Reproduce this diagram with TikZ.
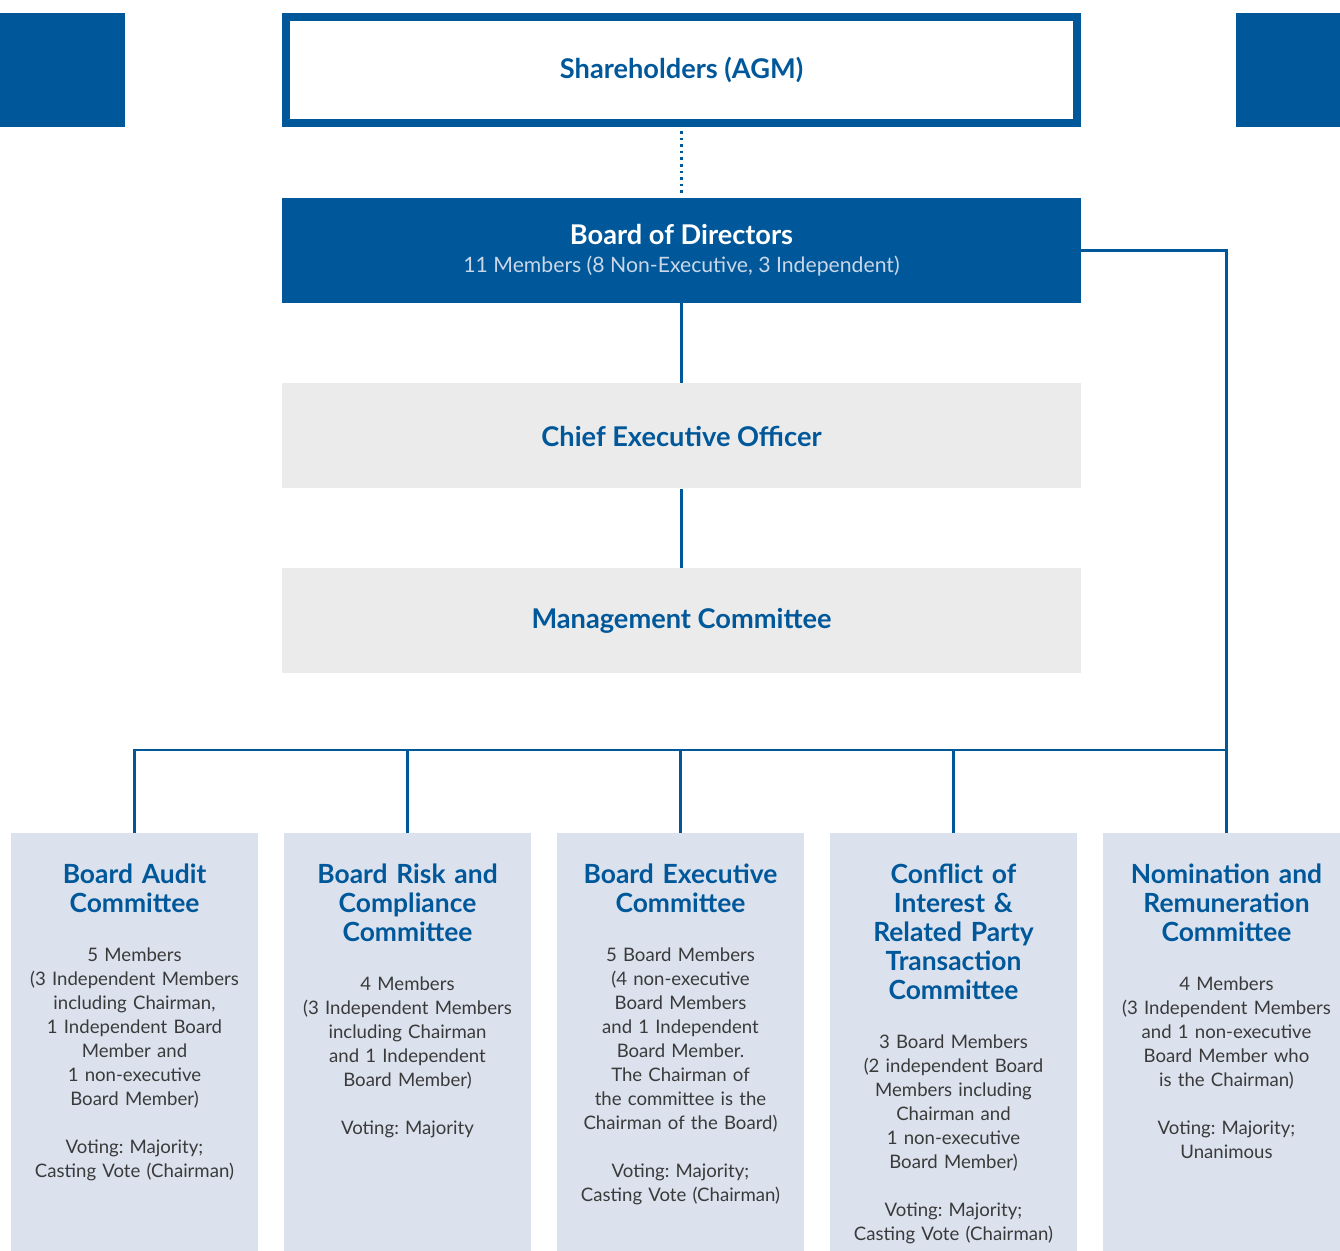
\documentclass[tikz,border=0pt]{standalone}
\usepackage{fontspec}
\setmainfont{Lato}
\usepackage{tikz}
\usetikzlibrary{positioning}

\definecolor{govblue}{HTML}{00589A}
\definecolor{govgrey}{HTML}{EBEBEB}
\definecolor{govpale}{HTML}{DBE2EE}
\definecolor{govtext}{HTML}{3A3A3A}
\definecolor{govsub}{HTML}{C9D7E8}

\begin{document}
\frenchspacing
\begin{tikzpicture}[
    x=0.5pt, y=-0.5pt,
    topbox/.style={minimum width=399.5pt, minimum height=52.5pt, inner sep=0pt, font=\bfseries\fontsize{13.6}{15}\selectfont, text=govblue},
    combox/.style={fill=govpale, minimum width=123.5pt, minimum height=209pt, inner sep=0pt},
    comtitle/.style={text width=123pt, align=center, inner sep=0pt, font=\bfseries\fontsize{13.2}{14.5}\selectfont, text=govblue},
    combody/.style={text width=123pt, align=center, inner sep=0pt, font=\fontsize{9.3}{12}\selectfont, text=govtext},
    link/.style={draw=govblue, line width=1.1pt}
    ]
        \clip (0,0) rectangle (1340,1251);
        %Corner blocks
        \fill[govblue] (0,13) rectangle (125,127);
        \fill[govblue] (1236,13) rectangle (1340,127);

        %Nodes
        \node[topbox, draw=govblue, line width=4pt, minimum width=395.5pt, minimum height=53pt]
            (agm)   at (681.5,70)   {Shareholders (AGM)};
        \node[topbox, fill=govblue, text=white, align=center]
            (board) at (681.5,250.5) {Board of Directors\\[-1pt]{\mdseries\fontsize{10.6}{12}\selectfont\color{govsub}11 Members (8 Non-Executive, 3 Independent)}};
        \node[topbox, fill=govgrey]
            (ceo)   at (681.5,436)  {Chief Executive Officer};
        \node[topbox, fill=govgrey]
            (mgmt)  at (681.5,620.5) {Management Committee};

        \node[combox]   (bac)   at (134.5,1042)  {};
        \node[combox]   (brc)   at (407.5,1042)  {};
        \node[combox]   (bec)   at (680.5,1042)  {};
        \node[combox]   (coi)   at (953.5,1042)  {};
        \node[combox]   (nrc)   at (1226.5,1042) {};
        \coordinate (bus) at (1226.5,750);

        %Committee texts
        \node[comtitle, below=15.5pt of bac.north] (bact) {Board Audit\\Committee};
        \node[combody, below=17pt of bact] (bacb) {5 Members\\(3 Independent Members\\including Chairman,\\1 Independent Board\\Member and\\1 non-executive\\Board Member)\\[12pt]Voting: Majority;\\Casting Vote (Chairman)};

        \node[comtitle, below=15.5pt of brc.north] (brct) {Board Risk and\\Compliance\\Committee};
        \node[combody, below=17pt of brct] (brcb) {4 Members\\(3 Independent Members\\including Chairman\\and 1 Independent\\Board Member)\\[12pt]Voting: Majority};

        \node[comtitle, below=15.5pt of bec.north] (bect) {Board Executive\\Committee};
        \node[combody, below=17pt of bect] (becb) {5 Board Members\\(4 non-executive\\Board Members\\and 1 Independent\\Board Member.\\The Chairman of\\the committee is the\\Chairman of the Board)\\[12pt]Voting: Majority;\\Casting Vote (Chairman)};

        \node[comtitle, below=15.5pt of coi.north] (coit) {Conflict of\\Interest \&\\Related Party\\Transaction\\Committee};
        \node[combody, below=17pt of coit] (coib) {3 Board Members\\(2 independent Board\\Members including\\Chairman and\\1 non-executive\\Board Member)\\[12pt]Voting: Majority;\\Casting Vote (Chairman)};

        \node[comtitle, below=15.5pt of nrc.north] (nrct) {Nomination and\\Remuneration\\Committee};
        \node[combody, below=17pt of nrct] (nrcb) {4 Members\\(3 Independent Members\\and 1 non-executive\\Board Member who\\is the Chairman)\\[12pt]Voting: Majority;\\Unanimous};

        %Lines
        \draw[govblue, line width=1.3pt, dotted, shorten <=2pt, shorten >=2pt]
            (agm.south) -- (board.north);
        \draw[link] (board.south) -- (ceo.north);
        \draw[link] (ceo.south) -- (mgmt.north);
        \draw[link] (board.east) -| (nrc.north);
        \draw[link] (bac.north) |- (bus);
        \draw[link] (brc.north) -- (brc.north |- bus);
        \draw[link] (bec.north) -- (bec.north |- bus);
        \draw[link] (coi.north) -- (coi.north |- bus);
    \end{tikzpicture}
\end{document}
